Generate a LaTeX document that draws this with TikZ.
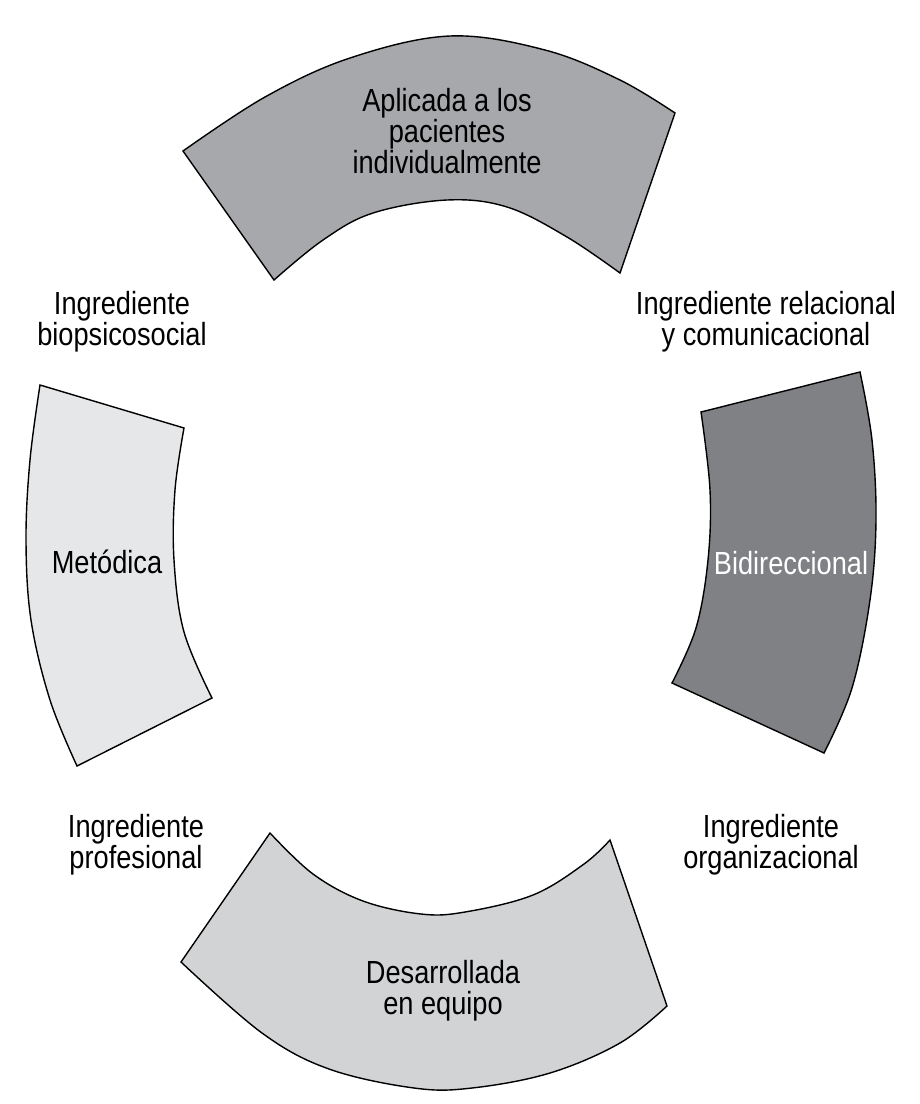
\documentclass[tikz,border=0pt]{standalone}
\usepackage{fontspec}
\setmainfont{Liberation Sans}[FakeStretch=0.85]
\newcommand\lblfont{\fontsize{32}{31}\selectfont}
\definecolor{topgray}{HTML}{A7A8AB}
\definecolor{leftgray}{HTML}{E6E7E8}
\definecolor{rightgray}{HTML}{808184}
\definecolor{botgray}{HTML}{D1D3D4}
\tikzset{
  sector/.style={draw=black, line width=1.4pt, line join=miter},
  lbl/.style={align=center, font=\lblfont, inner sep=0pt, text=black},
}
\begin{document}
\begin{tikzpicture}[x=1pt, y=-1pt]
\useasboundingbox (0,0) rectangle (920,1104);
% top sector
\filldraw[sector, fill=topgray] (183,151)
  -- plot[smooth, tension=0.6] coordinates {(183,151) (265,97) (350,58) (450,36) (545,50) (620,80) (675,113)}
  -- (620,273)
  -- plot[smooth, tension=0.6] coordinates {(620,273) (567,237) (507,207) (447,200) (373,213) (323,240) (274,280)}
  -- cycle;
% left sector
\filldraw[sector, fill=leftgray] (40,385) -- (184,428)
  -- plot[smooth, tension=0.6] coordinates {(184,428) (175,490) (174,560) (184,632) (212,698)}
  -- (77,766)
  -- plot[smooth, tension=0.6] coordinates {(77,766) (50,700) (31,620) (26,540) (30,460) (40,385)}
  -- cycle;
% right sector
\filldraw[sector, fill=rightgray] (701,412) -- (860,372)
  -- plot[smooth, tension=0.6] coordinates {(860,372) (872,440) (876,520) (870,600) (852,688) (824,753)}
  -- (672,683)
  -- plot[smooth, tension=0.6] coordinates {(672,683) (696,628) (708,560) (710,490) (701,412)}
  -- cycle;
% bottom sector
\filldraw[sector, fill=botgray] (181,962) -- (270,833)
  -- plot[smooth, tension=0.6] coordinates {(270,833) (313,874) (363,901) (421,914) (465,912) (533,895) (584,864) (610,840)}
  -- (667,1006)
  -- plot[smooth, tension=0.6] coordinates {(667,1006) (620,1043) (550,1073) (472,1088) (414,1088) (329,1069) (262,1033) (181,962)}
  -- cycle;
% sector labels
\node[lbl] (aplicada) at (447,131) {Aplicada a los\\pacientes\\individualmente};
\node[lbl] (metodica) at (107,562) {Metódica};
\node[lbl, text=white] (bidir) at (791,563) {Bidireccional};
\node[lbl] (desarr) at (443,991) {Desarrollada\\en equipo};
% ingredient labels
\node[lbl] (biops) at (122,322) {Ingrediente\\biopsicosocial};
\node[lbl] (relac) at (766,322) {Ingrediente relacional\\y comunicacional};
\node[lbl] (profes) at (136,845) {Ingrediente\\profesional};
\node[lbl] (organ) at (771,845) {Ingrediente\\organizacional};
\end{tikzpicture}
\end{document}
